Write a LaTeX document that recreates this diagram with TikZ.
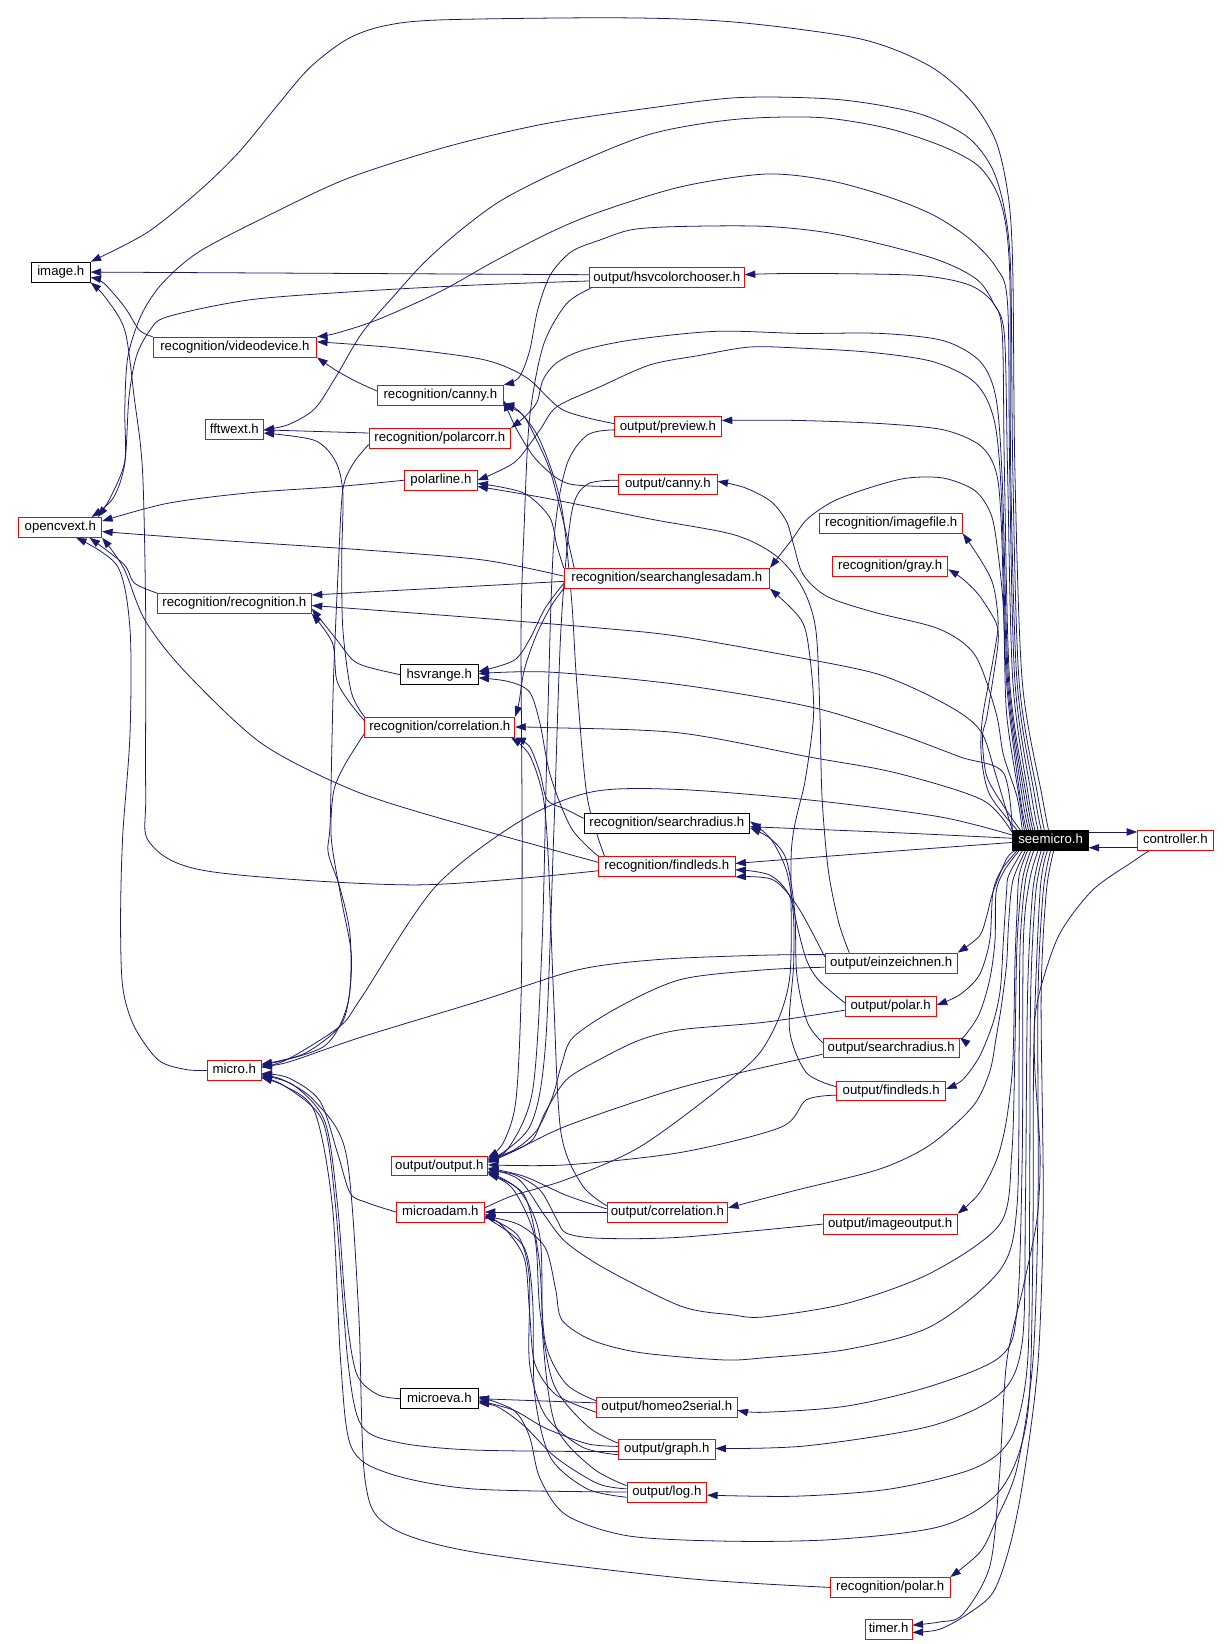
\documentclass[tikz,border=0pt]{standalone}
\usepackage{fontspec}
\setmainfont{Liberation Sans}
\usetikzlibrary{arrows.meta}
\pgfdeclarelayer{back}
\pgfdeclarelayer{edges}
\pgfsetlayers{back,edges,main}
\definecolor{mblue}{HTML}{191970}
\tikzset{
  nd/.style={draw=red, fill=white, line width=0.8pt, inner sep=0pt, minimum height=19pt,
     text height=9.2pt, text depth=2.7pt, font=\fontsize{12.6}{14}\selectfont},
  blk/.style={nd, draw=black},
  root/.style={nd, draw=black, fill=black, text=white},
  e/.style={draw=mblue, line width=0.75pt, -{Triangle[length=10pt,width=7pt]}},
}
\begin{document}
\begin{tikzpicture}[x=1pt,y=-1pt]
\begin{pgfonlayer}{back}
\fill[white] (0,0) rectangle (1171,1568);
\end{pgfonlayer}
\useasboundingbox (0,0) rectangle (1171,1568);
% nodes
\node[blk,minimum width=56pt] (img) at (58,259.5) {image.h};
\node[nd,minimum width=156pt] (vdev) at (224,331) {recognition/videodevice.h};
\node[nd,minimum width=120pt] (rcanny) at (420,377) {recognition/canny.h};
\node[nd,minimum width=55pt] (fft) at (223.5,410) {fftwext.h};
\node[nd,minimum width=135pt] (pcorr) at (419.5,418) {recognition/polarcorr.h};
\node[nd,minimum width=69pt] (pline) at (420.5,458) {polarline.h};
\node[nd,minimum width=79pt] (ocv) at (57.5,503) {opencvext.h};
\node[nd,minimum width=148pt] (hsvc) at (636,265) {output/hsvcolorchooser.h};
\node[nd,minimum width=102pt] (prev) at (637,407) {output/preview.h};
\node[nd,minimum width=94pt] (ocanny) at (637,462) {output/canny.h};
\node[nd,minimum width=136pt] (imgf) at (850,499) {recognition/imagefile.h};
\node[nd,minimum width=110pt] (gray) at (849,540) {recognition/gray.h};
\node[nd,minimum width=196pt] (sadam) at (636,551.5) {recognition/searchanglesadam.h};
\node[nd,minimum width=147pt] (rrec) at (223.5,575.5) {recognition/recognition.h};
\node[blk,minimum width=74pt] (hsvr) at (419,643.5) {hsvrange.h};
\node[nd,minimum width=143pt] (rcorr) at (419.5,693.5) {recognition/correlation.h};
\node[blk,minimum width=158pt] (rsr) at (636,785.5) {recognition/searchradius.h};
\node[root,minimum width=72pt] (S) at (1002,801.5) {seemicro.h};
\node[nd,minimum width=72pt] (ctrl) at (1121,801.5) {controller.h};
\node[nd,minimum width=130pt] (rfl) at (636,826.5) {recognition/findleds.h};
\node[nd,minimum width=126pt] (ein) at (850,918.5) {output/einzeichnen.h};
\node[nd,minimum width=87pt] (opol) at (849.5,959.5) {output/polar.h};
\node[nd,minimum width=130pt] (osr) at (850,999.5) {output/searchradius.h};
\node[nd,minimum width=51pt] (micro) at (223.5,1021) {micro.h};
\node[nd,minimum width=104pt] (ofl) at (850,1040.5) {output/findleds.h};
\node[nd,minimum width=92pt] (oout) at (419,1112) {output/output.h};
\node[nd,minimum width=84pt] (madam) at (420,1156) {microadam.h};
\node[nd,minimum width=115pt] (ocorr) at (636.5,1156) {output/correlation.h};
\node[nd,minimum width=128pt] (oimg) at (849,1167.5) {output/imageoutput.h};
\node[blk,minimum width=74pt] (meva) at (419,1334) {microeva.h};
\node[nd,minimum width=134pt] (ohomeo) at (636,1342) {output/homeo2serial.h};
\node[nd,minimum width=92pt] (ograph) at (636,1382.5) {output/graph.h};
\node[nd,minimum width=76pt] (olog) at (636,1423) {output/log.h};
\node[nd,minimum width=114pt] (rpolar) at (849,1514) {recognition/polar.h};
\node[nd,minimum width=45pt] (timer) at (847.5,1554) {timer.h};

\begin{pgfonlayer}{edges}
% ---- from seemicro.h, upward arcs
\draw[e] plot[smooth] coordinates {([xshift=-2pt]S.north) (994,760) (975,650) (968,450) (966,260) (962,190) (950,135) (925,95) (885,62) (820,37) (700,21) (590,17) (420,19) (365,25) (330,38) (295,65) (265,100) (228,145) (190,182) (140,222) (img.north east)};
\draw[e] plot[smooth] coordinates {([xshift=-6pt]S.north) (990,760) (972,650) (966,450) (964,260) (958,200) (946,160) (922,130) (875,108) (800,95) (706,93) (620,103) (520,118) (426,140) (332,170) (257,205) (190,240) (155,270) (135,300) (122,340) (119,390) (119,440) (105,475) ([xshift=-4pt]ocv.north east)};
\draw[e] plot[smooth] coordinates {([xshift=-9pt]S.north) (987,760) (970,650) (964,450) (963,260) (955,195) (935,160) (900,140) (845,122) (780,112) (700,114) (620,128) (540,160) (480,190) (440,219) (405,250) (375,283) (345,318) (320,360) (300,390) (275,405) (fft.east)};
\draw[e] plot[smooth] coordinates {([xshift=-12pt]S.north) (984,760) (968,650) (963,450) (961,290) (950,255) (925,228) (890,205) (845,187) (790,172) (730,166) (650,178) (572,202) (524,222) (470,250) (420,278) (360,305) (320,318) (vdev.north east)};
\draw[e] plot[smooth] coordinates {([xshift=-15pt]S.north) (981,760) (966,650) (961,450) (958,320) (948,290) (931,266) (889,246) (801,224) (732,216) (650,216) (603,219) (572,229) (545,240) (525,262) (513,295) (505,335) (495,360) (rcanny.north east)};
\draw[e] plot[smooth] coordinates {([xshift=-17pt]S.north) (979,760) (963,650) (958,450) (956,320) (948,290) (925,272) (880,263) (800,261) (740,261) ([yshift=3pt]hsvc.east)};
\draw[e] plot[smooth] coordinates {([xshift=-19pt]S.north) (977,760) (962,650) (956,460) (950,380) (935,345) (900,325) (840,318) (763,318) (683,316) (604,324) (556,334) (531,346) (518,362) (512,384) (500,398) (pcorr.north east)};
\draw[e] plot[smooth] coordinates {([xshift=-21pt]S.north) (975,760) (961,650) (955,470) (948,400) (930,365) (890,345) (830,336) (763,332) (715,331) (667,339) (620,348) (572,369) (531,388) (515,410) (493,439) (470,452) (pline.east)};
\draw[e] plot[smooth] coordinates {([xshift=-23pt]S.north) (973,760) (960,650) (955,500) (950,450) (935,425) (900,410) (840,404) (760,401) ([yshift=6pt]prev.east)};
\draw[e] plot[smooth] coordinates {([xshift=-25pt]S.north) (972,760) (960,680) (957,580) (951,521) (945,490) (930,468) (900,456) (865,456) (830,465) (795,478) (770,495) (755,515) (sadam.north east)};
\draw[e] plot[smooth] coordinates {([xshift=-27pt]S.north) (970,760) (957,720) (950,680) (930,625) (896,600) (834,584) (789,569) (766,548) (757,520) (750,497) (735,478) (710,465) ([yshift=3pt]ocanny.east)};
\draw[e] plot[smooth] coordinates {([xshift=-32pt]S.north) (944,758) (936,722) (937,685) (947,630) (952,594) (947,557) (934,532) (imgf.south east)};
\draw[e] plot[smooth] coordinates {([xshift=-29pt]S.north) (958,770) (941,740) (937,703) (941,685) (947,648) (952,612) (950,594) (934,568) (918,552) ([yshift=-3pt]gray.east)};
% ---- from seemicro.h, leftward
\draw[e] plot[smooth] coordinates {([yshift=9pt]S.west) (950,740) (937,700) (916,680) (875,658) (834,642) (772,629) (648,607) (572,599) (438,588) ([yshift=-2pt]rrec.east)};
\draw[e] plot[smooth] coordinates {([yshift=8pt]S.west) (957,737) (916,722) (854,699) (772,674) (648,653) (524,641) ([yshift=1pt]hsvr.east)};
\draw[e] plot[smooth] coordinates {([yshift=7pt]S.west) (937,763) (854,737) (772,722) (648,699) (524,694) (rcorr.east)};
\draw[e] plot[smooth] coordinates {([yshift=5pt]S.west) (896,779) (772,763) (648,753) (566,755) (498,782) (415,846) (345,951) (324,979) (275,1010) ([yshift=3pt]micro.east)};
\draw[e] plot[smooth] coordinates {([yshift=2pt]S.west) (850,794) ([yshift=-3pt]rsr.east)};
\draw[e] plot[smooth] coordinates {([yshift=-2pt]S.west) (850,812) ([yshift=3pt]rfl.east)};
\draw[e] ([yshift=8pt]S.east) -- ([yshift=8pt]ctrl.west);
\draw[e] ([yshift=-7pt]ctrl.west) -- ([yshift=-7pt]S.east);
% ---- from seemicro.h, downward
\draw[e] plot[smooth] coordinates {([xshift=-34pt]S.south) (960,819) (947,851) (941,874) (934,893) (ein.north east)};
\draw[e] plot[smooth] coordinates {([xshift=-32pt]S.south) (955,830) (947,851) (944,897) (934,930) (915,949) ([yshift=1pt]opol.east)};
\draw[e] plot[smooth] coordinates {([xshift=-30pt]S.south) (958,830) (950,851) (949,897) (944,934) (934,967) (920,988) (osr.north east)};
\draw[e] plot[smooth] coordinates {([xshift=-27pt]S.south) (962,835) (960,851) (957,897) (954,944) (947,976) (934,1008) (918,1030) ([yshift=2pt]ofl.east)};
\draw[e] plot[smooth] coordinates {([xshift=-22pt]S.south) (972,835) (970,870) (968,920) (966,1013) (960,1068) (951,1105) (934,1138) (oimg.north east)};
\draw[e] plot[smooth] coordinates {([xshift=-24pt]S.south) (966,840) (962,880) (960,920) (955,960) (950,990) (944,1022) (928,1055) (887,1092) (839,1115) (760,1135) ([yshift=4pt]ocorr.east)};
\draw[e] plot[smooth] coordinates {([xshift=-19pt]S.south) (975,840) (970,900) (968,1000) (965,1100) (954,1167) (888,1214) (808,1243) (729,1256) (698,1254) (650,1246) (579,1211) (540,1185) (520,1160) (495,1125) ([yshift=-3pt]oout.east)};
\draw[e] plot[smooth] coordinates {([xshift=-16pt]S.south) (978,840) (973,900) (972,1000) (970,1150) (954,1211) (888,1265) (808,1287) (729,1295) (689,1297) (610,1290) (564,1278) (536,1259) (530,1230) (520,1190) (495,1168) ([yshift=-4pt]madam.east)};
\draw[e] plot[smooth] coordinates {([xshift=-12pt]S.south) (982,840) (976,900) (975,1100) (970,1250) (954,1294) (888,1322) (808,1341) (729,1347) ([yshift=-3pt]ohomeo.east)};
\draw[e] plot[smooth] coordinates {([xshift=-9pt]S.south) (985,850) (980,950) (978,1150) (975,1280) (954,1329) (888,1360) (769,1379) ([yshift=1pt]ograph.east)};
\draw[e] plot[smooth] coordinates {([xshift=-6pt]S.south) (988,850) (983,950) (982,1150) (980,1300) (965,1370) (930,1400) (850,1420) (760,1427) ([yshift=-3pt]olog.east)};
\draw[e] plot[smooth] coordinates {([xshift=-3pt]S.south) (992,850) (986,1000) (985,1200) (980,1350) (955,1420) (900,1455) (800,1468) (700,1470) (600,1465) (540,1445) (515,1410) (505,1370) (490,1345) ([yshift=2pt]meva.east)};
\draw[e] plot[smooth] coordinates {(S.south) (995,850) (990,950) (990,1150) (985,1300) (970,1400) (950,1450) (935,1480) (rpolar.north east)};
\draw[e] plot[smooth] coordinates {([xshift=3pt]S.south) (998,850) (993,950) (995,1150) (990,1300) (976,1411) (963,1475) (947,1519) (922,1540) (896,1554) ([yshift=-3pt]timer.east)};
\draw[e] plot[smooth] coordinates {([xshift=-25pt]ctrl.south) (1080,822) (1042,849) (1011,890) (994,937) (987,972) (987,1020) (992,1100) (989,1163) (976,1227) (960,1300) (953,1411) (944,1494) (918,1540) (896,1547) ([yshift=4pt]timer.east)};
% ---- left part
\draw[e] ([yshift=3pt]hsvc.west) -- (img.east);
\draw[e] plot[smooth] coordinates {([yshift=-3pt]hsvc.west) (450,272) (340,278) (238,286) (160,302) (143,315) (130,340) (123,379) (119,442) (108,475) ([xshift=-10pt]ocv.north east)};
\draw[e] plot[smooth] coordinates {(vdev.north west) (133,315) (119,293) (99,270) ([yshift=-5pt]img.east)};
\draw[e] plot[smooth] coordinates {([yshift=-4pt]rfl.west) (396,844) (199,831) (143,804) (139,756) (139,591) (136,450) (128,379) (119,315) (100,283) (img.south east)};
\draw[e] plot[smooth] coordinates {([yshift=4pt]rfl.west) (401,775) (328,750) (248,708) (175,639) (138,591) (118,542) (ocv.south east)};
\draw[e] plot[smooth] coordinates {(rrec.north west) (128,556) (118,538) ([xshift=-12pt]ocv.south east)};
\draw[e] plot[smooth] coordinates {(micro.west) (177,1020) (151,1011) (128,979) (117,941) (115,877) (117,798) (124,700) (124,600) (112,540) ([xshift=15pt]ocv.south)};
\draw[e] plot[smooth] coordinates {(pline.west) (323,464) (238,470) (160,480) ([yshift=6pt]ocv.east)};
\draw[e] plot[smooth] coordinates {([yshift=2pt]sadam.west) (460,534) (340,524) (204,515) ([yshift=-4pt]ocv.east)};
\draw[e] ([yshift=-3pt]sadam.west) -- ([yshift=8pt]rrec.east);
\draw[e] ([yshift=5pt]pcorr.west) -- (fft.east);
\draw[e] plot[smooth] coordinates {(rcorr.north west) (335,660) (327,600) (326,530) (327,470) (320,440) (300,420) ([yshift=-3pt]fft.east)};
\draw[e] plot[smooth] coordinates {([yshift=4pt]rcanny.west) (340,364) (320,353) (vdev.south east)};
\draw[e] plot[smooth] coordinates {([yshift=3pt]prev.west) (537,391) (502,360) (461,343) (380,332) ([yshift=5pt]vdev.east)};
\draw[e] plot[smooth] coordinates {([yshift=-6pt]pcorr.west) (337,442) (327,467) (323,534) (318,650) (315,782) (313,813) (324,846) (334,893) (332,956) (309,998) ([yshift=5pt]micro.east)};
\draw[e] plot[smooth] coordinates {([yshift=-6pt]rcorr.west) (328,731) (318,756) (316,800) (326,860) (335,909) (333,950) (324,979) (290,1005) ([yshift=6pt]micro.east)};
\draw[e] plot[smooth] coordinates {([yshift=6pt]rcorr.west) (332,668) (321,648) (317,613) (rrec.south east)};
\draw[e] plot[smooth] coordinates {(hsvr.west) (350,636) (336,629) (321,610) ([yshift=-5pt]rrec.east)};
\draw[e] plot[smooth] coordinates {(sadam.south west) (525,579) (511,607) (500,639) (495,670) (rcorr.north east)};
\draw[e] plot[smooth] coordinates {(sadam.north west) (531,520) (524,493) (499,470) ([yshift=-3pt]pline.east)};
\draw[e] plot[smooth] coordinates {([xshift=10pt]sadam.north west) (538,500) (525,450) (512,420) (498,395) (rcanny.south east)};
\draw[e] plot[smooth] coordinates {([yshift=-2pt]ocanny.west) (541,461) (512,439) (493,410) ([yshift=-5pt]rcanny.east)};
\draw[e] plot[smooth] coordinates {([xshift=6pt]rfl.north west) (560,760) (550,650) (545,570) (535,480) (515,420) (495,392) ([yshift=-8pt]rcanny.east)};
\draw[e] plot[smooth] coordinates {([xshift=-40pt]ein.north) (800,880) (790,830) (784,760) (782,680) (778,600) (765,560) (740,530) (700,510) (620,495) (520,475) ([yshift=-6pt]pline.east)};
\draw[e] plot[smooth] coordinates {([yshift=-5pt]sadam.west) (520,580) (505,610) (490,630) ([yshift=3pt]hsvr.east)};
\draw[e] plot[smooth] coordinates {(rfl.north west) (545,790) (525,740) (515,690) (505,660) (485,650) ([yshift=-3pt]hsvr.east)};
\draw[e] plot[smooth] coordinates {([yshift=5pt]rsr.west) (540,772) (522,763) (515,737) (505,712) (rcorr.south east)};
\draw[e] plot[smooth] coordinates {([yshift=6pt]ocorr.west) (555,1130) (535,1080) (528,950) (523,820) (518,760) (505,720) ([xshift=-4pt]rcorr.south east)};
\draw[e] (ocorr.west) -- (madam.east);
\draw[e] plot[smooth] coordinates {([yshift=3pt]ocorr.west) (540,1140) (500,1122) ([yshift=-2pt]oout.east)};
% ---- right-middle to recognition column
\draw[e] plot[smooth] coordinates {([yshift=5pt]osr.west) (770,975) (760,930) (758,870) (750,820) (735,800) ([yshift=-4pt]rsr.east)};
\draw[e] plot[smooth] coordinates {([yshift=4pt]ofl.west) (769,1023) (753,982) (757,918) (755,860) (735,835) ([yshift=-3pt]rfl.east)};
\draw[e] plot[smooth] coordinates {([yshift=6pt]ein.west) (761,865) (737,839) (rfl.south east)};
\draw[e] plot[smooth] coordinates {([yshift=3pt]opol.west) (781,935) (769,915) (759,877) (750,830) (735,800) ([yshift=2pt]rsr.east)};
% ---- into micro.h and output/output.h
\draw[e] plot[smooth] coordinates {([yshift=8pt]ein.west) (729,911) (630,915) (551,925) (460,954) (345,989) (275,1013) ([yshift=4pt]micro.east)};
\draw[e] plot[smooth] coordinates {([yshift=-4pt]ein.west) (729,925) (650,934) (591,960) (547,989) (536,1014) (527,1046) (512,1078) (490,1097) ([yshift=7pt]oout.east)};
\draw[e] plot[smooth] coordinates {([yshift=-4pt]opol.west) (729,975) (650,982) (610,992) (571,1011) (540,1030) (520,1061) (508,1087) (485,1100) ([yshift=5pt]oout.east)};
\draw[e] plot[smooth] coordinates {([yshift=-6pt]osr.west) (689,1027) (630,1043) (540,1074) (490,1098) ([yshift=3pt]oout.east)};
\draw[e] plot[smooth] coordinates {([yshift=-4pt]ofl.west) (769,1049) (745,1075) (650,1099) (540,1111) ([yshift=1pt]oout.east)};
\draw[e] plot[smooth] coordinates {(oimg.west) (650,1180) (571,1181) (540,1176) (531,1163) (515,1135) (490,1120) ([yshift=-5pt]oout.east)};
\draw[e] plot[smooth] coordinates {([xshift=2pt]hsvc.south west) (540,290) (518,330) (505,400) (500,500) (497,600) (498,800) (497,950) (492,1050) (480,1090) ([yshift=8pt]oout.east)};
\draw[e] plot[smooth] coordinates {([yshift=-3pt]prev.west) (560,415) (540,445) (528,520) (522,700) (517,900) (508,1040) (485,1095) ([yshift=6pt]oout.east)};
\draw[e] plot[smooth] coordinates {([yshift=4pt]ocanny.west) (560,462) (545,490) (535,600) (528,800) (520,1000) (505,1075) ([yshift=4pt]oout.east)};
\draw[e] plot[smooth] coordinates {([yshift=4pt]madam.east) (490,1140) (540,1125) (610,1094) (689,1036) (729,998) (753,934) (755,808) (768,744) (776,680) (772,623) (764,591) (sadam.south east)};
\draw[e] plot[smooth] coordinates {(madam.west) (350,1147) (334,1138) (322,1100) (305,1050) (275,1028) ([yshift=-3pt]micro.east)};
\draw[e] plot[smooth] coordinates {(meva.west) (360,1330) (340,1310) (330,1250) (322,1150) (310,1070) (280,1035) ([yshift=-5pt]micro.east)};
\draw[e] plot[smooth] coordinates {([yshift=-2pt]ograph.west) (452,1383) (381,1376) (345,1360) (332,1300) (320,1150) (308,1070) (275,1038) ([yshift=-7pt]micro.east)};
\draw[e] plot[smooth] coordinates {(olog.west) (450,1420) (370,1405) (335,1380) (325,1300) (317,1150) (300,1060) (270,1035) ([yshift=-6pt]micro.east)};
\draw[e] plot[smooth] coordinates {(rpolar.west) (650,1505) (450,1480) (370,1455) (348,1410) (342,1250) (330,1100) (300,1050) (270,1030) ([yshift=-4pt]micro.east)};
\draw[e] ([yshift=4pt]ohomeo.west) -- (meva.east);
\draw[e] plot[smooth] coordinates {([yshift=3pt]ograph.west) (560,1377) (520,1362) (490,1345) ([yshift=-2pt]meva.east)};
\draw[e] plot[smooth] coordinates {([yshift=3pt]olog.west) (570,1415) (530,1390) (500,1360) (475,1342) ([yshift=-4pt]meva.east)};
\draw[e] plot[smooth] coordinates {([yshift=-5pt]ohomeo.west) (530,1330) (510,1300) (505,1250) (500,1200) (480,1170) ([yshift=-2pt]madam.east)};
\draw[e] plot[smooth] coordinates {([yshift=-5pt]ograph.west) (555,1380) (520,1350) (505,1300) (505,1220) (495,1180) (470,1163) ([yshift=-6pt]madam.east)};
\draw[e] plot[smooth] coordinates {([yshift=-5pt]olog.west) (560,1420) (525,1390) (510,1330) (508,1240) (500,1190) (470,1165) ([yshift=-7pt]madam.east)};
\draw[e] plot[smooth] coordinates {([yshift=6pt]ograph.west) (560,1360) (528,1320) (515,1250) (510,1180) (490,1135) (468,1120) ([yshift=-7pt]oout.east)};
\draw[e] plot[smooth] coordinates {([yshift=6pt]olog.west) (565,1400) (530,1360) (518,1280) (515,1180) (495,1135) ([yshift=-8pt]oout.east)};
\draw[e] plot[smooth] coordinates {([yshift=6pt]ohomeo.west) (540,1320) (520,1280) (514,1200) (500,1140) ([yshift=-6pt]oout.east)};
\end{pgfonlayer}
\end{tikzpicture}
\end{document}
